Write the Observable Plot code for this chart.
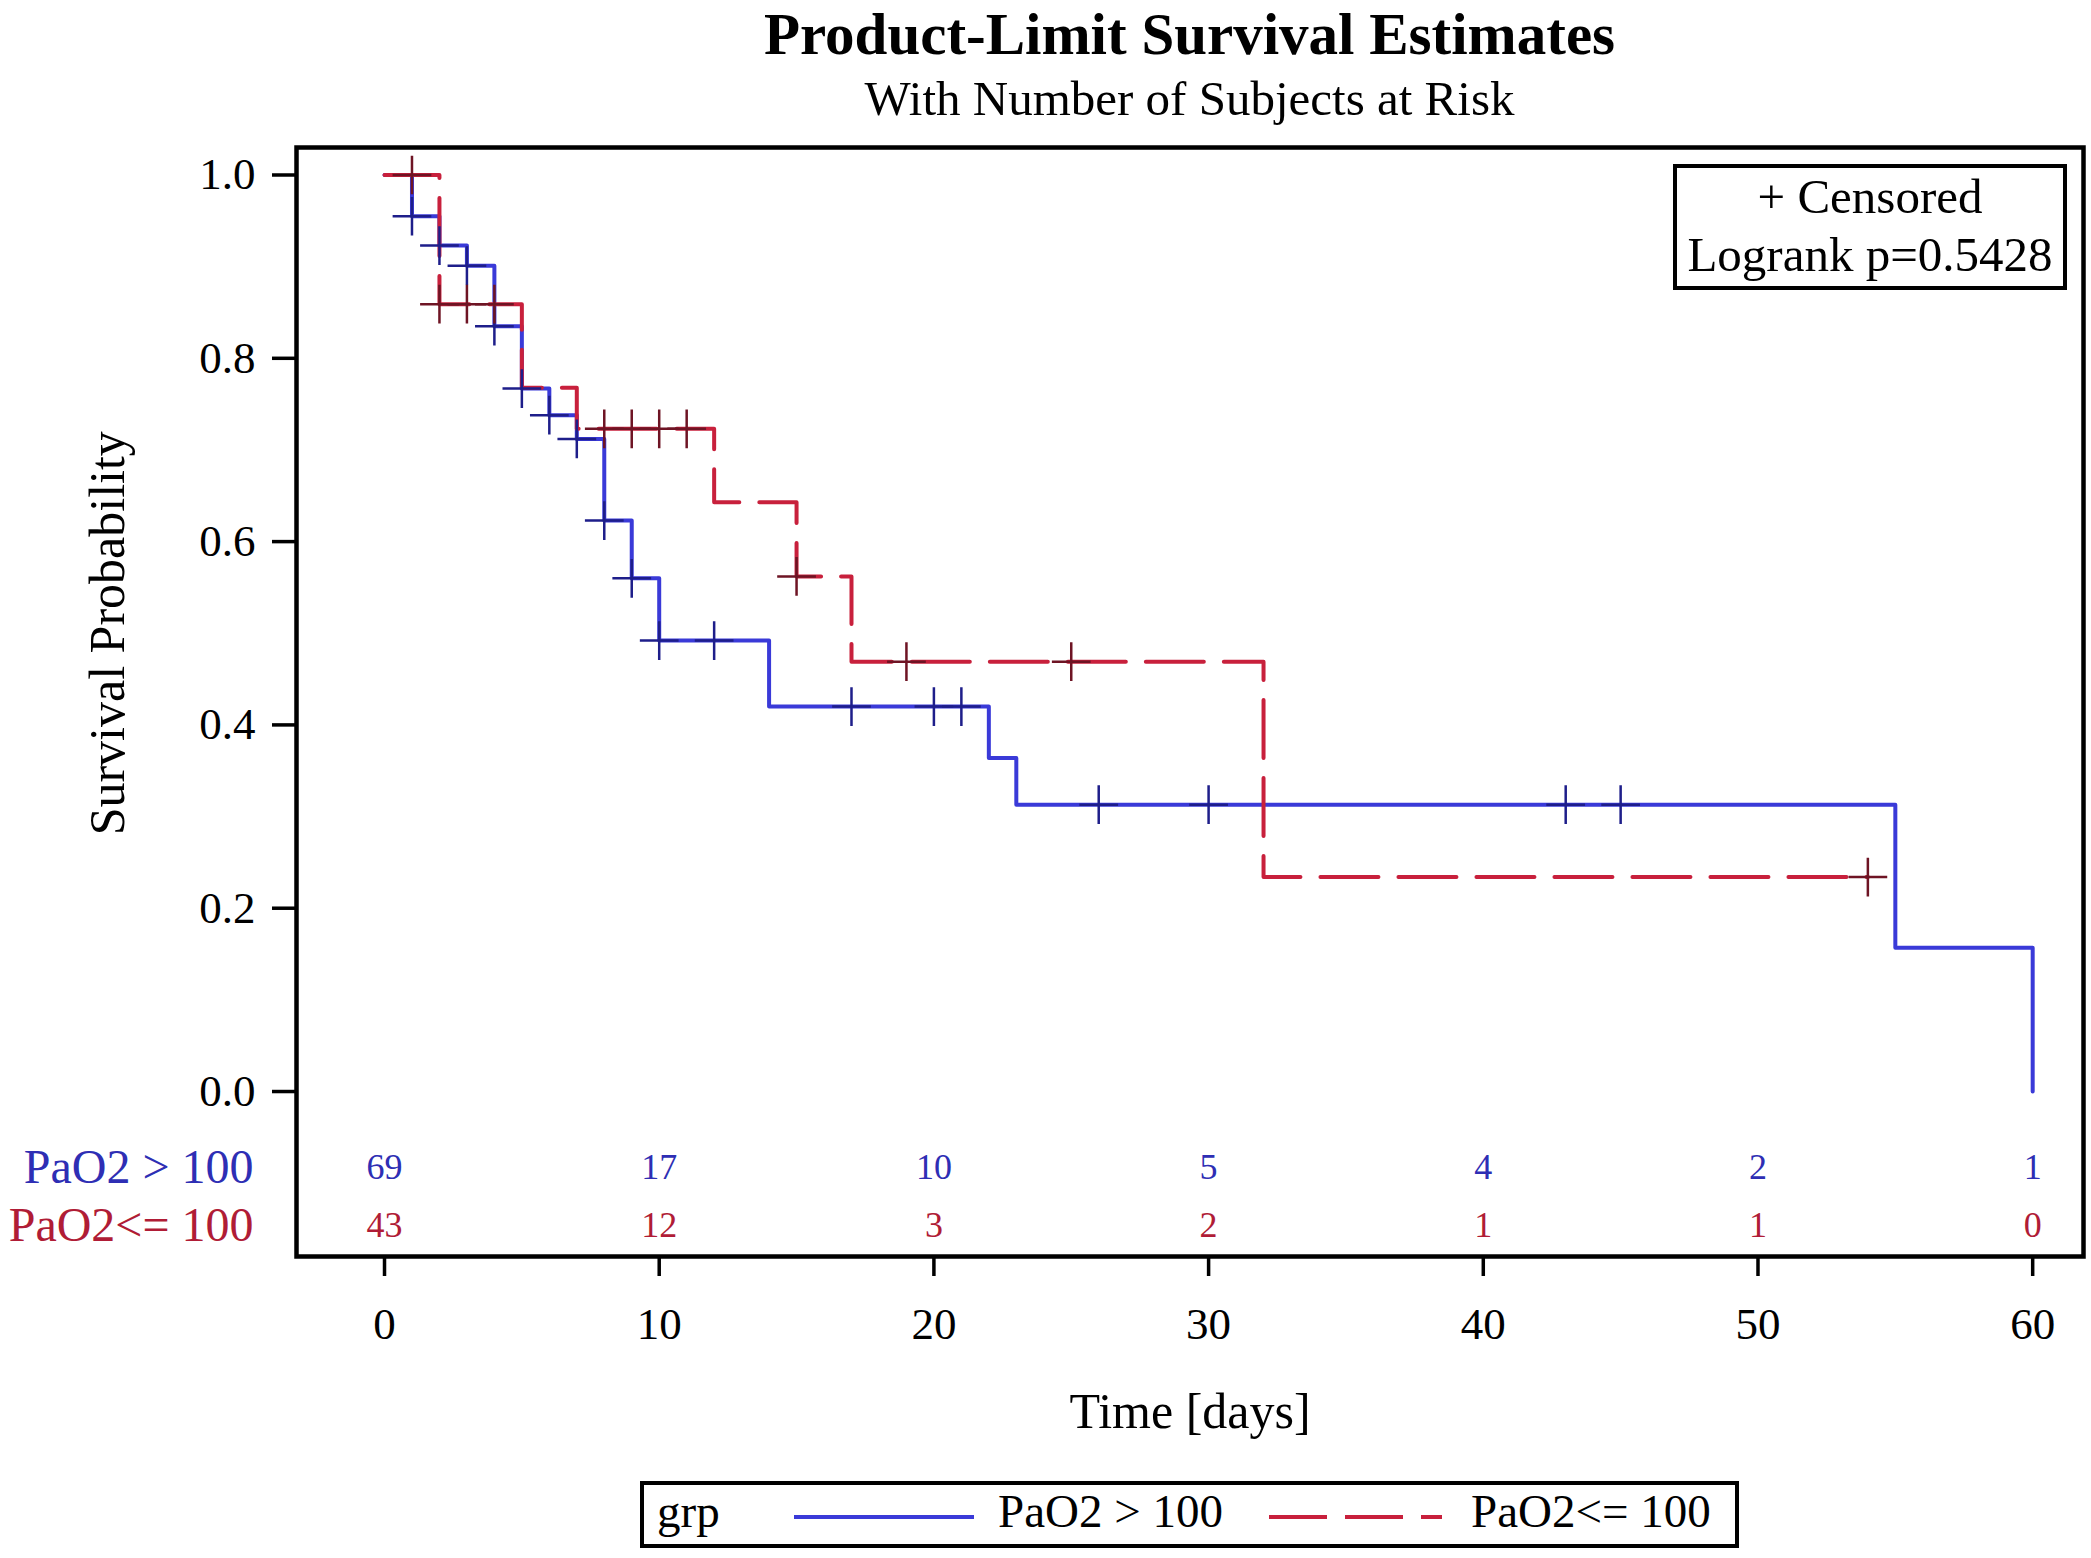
<!DOCTYPE html>
<html>
<head>
<meta charset="utf-8">
<script src="https://cdn.jsdelivr.net/npm/d3@7"></script>
<script src="https://cdn.jsdelivr.net/npm/@observablehq/plot@0.6"></script>
<style>
  body { margin: 0; background: #fff; font-family: "Liberation Serif", serif; color: #000; }
  #page { position: relative; width: 2091px; height: 1558px; overflow: hidden; }
  #title { position: absolute; left: 296px; width: 1787px; top: 0; text-align: center;
           font-weight: bold; font-size: 59px; line-height: 68px; }
  #subtitle { position: absolute; left: 296px; width: 1787px; top: 74px; text-align: center;
              font-size: 49px; line-height: 49px; }
  #chart { position: absolute; left: 0; top: 130px; }
  #inset { position: absolute; left: 1673px; top: 164px; width: 386px; height: 118px;
           border: 4px solid #000; background: #fff; text-align: center;
           font-size: 49px; line-height: 58px; }
  #legend { position: absolute; left: 640px; top: 1481px; }
</style>
</head>
<body>
<div id="page">
  <div id="title">Product-Limit Survival Estimates</div>
  <div id="subtitle">With Number of Subjects at Risk</div>
  <div id="chart"></div>
  <div id="inset">+ Censored<br>Logrank p=0.5428</div>
  <div id="legend"></div>
</div>
<script>
// groups
const groups = ["PaO2 > 100", "PaO2<= 100"];
const colors = ["#3a3ad8", "#c8203c"];
const censorColors = ["#1e1e8a", "#6e1424"];
const textColors = ["#2e2eb4", "#b01c36"];

// Kaplan-Meier steps, group PaO2 > 100
const highTime = [0, 1, 2, 3, 4, 5, 6, 7, 8, 9, 10, 14, 22, 23, 55, 60];
const highSurv = [1.0, 0.955, 0.923, 0.901, 0.835, 0.767, 0.738, 0.712, 0.623, 0.560, 0.492, 0.420, 0.364, 0.313, 0.157, 0.0];
const highCensored = [1, 2, 3, 4, 5, 6, 7, 8, 9, 10, 12, 17, 20, 21, 26, 30, 43, 45];

// Kaplan-Meier steps, group PaO2 <= 100
const lowTime = [0, 2, 5, 7, 12, 15, 17, 32, 54];
const lowSurv = [1.0, 0.859, 0.768, 0.723, 0.643, 0.562, 0.469, 0.234, 0.234];
const lowCensored = [1, 2, 3, 4, 8, 9, 10, 11, 15, 19, 25, 54];

// number at risk
const riskTimes = [0, 10, 20, 30, 40, 50, 60];
const riskHigh = [69, 17, 10, 5, 4, 2, 1];
const riskLow = [43, 12, 3, 2, 1, 1, 0];

const xTicks = [0, 10, 20, 30, 40, 50, 60];
const yTicks = [0, 0.2, 0.4, 0.6, 0.8, 1.0];

// layout
const rowY = [-0.0826, -0.146];

function steps(time, surv, g) {
  return time.map((t, i) => ({time: t, surv: surv[i], grp: groups[g]}));
}
function censor(time, surv, cens, g) {
  return cens.map(t => {
    const i = d3.bisectRight(time, t) - 1;
    return {time: t, surv: surv[i], grp: groups[g]};
  });
}
const lines = [steps(highTime, highSurv, 0), steps(lowTime, lowSurv, 1)];
const cens = [censor(highTime, highSurv, highCensored, 0), censor(lowTime, lowSurv, lowCensored, 1)];
const risk = [riskHigh, riskLow].flatMap((arr, g) =>
  arr.map((n, i) => ({time: riskTimes[i], n, row: rowY[g], g})));

const chart = Plot.plot({
  width: 2091,
  height: 1340,
  marginLeft: 296,
  marginRight: 8,
  marginTop: 17,
  marginBottom: 214,
  style: {fontFamily: "Liberation Serif", fontSize: "45px", background: "white", color: "black"},
  x: {domain: [-3.204, 61.85]},
  y: {domain: [-0.180, 1.030]},
  marks: [
    Plot.axisY({ticks: yTicks, tickFormat: d3.format(".1f"), tickSize: 24, tickPadding: 17,
                strokeWidth: 3.5, fontSize: 45, label: null}),
    Plot.axisX({ticks: xTicks, tickFormat: d3.format("d"), tickSize: 20, tickPadding: 31,
                strokeWidth: 3.5, fontSize: 45, label: null}),
    Plot.line(lines[0], {x: "time", y: "surv", curve: "step-after", stroke: colors[0], strokeWidth: 4}),
    Plot.line(lines[1], {x: "time", y: "surv", curve: "step-after", stroke: colors[1], strokeWidth: 4,
                         strokeDasharray: "58,20"}),
    Plot.dot(cens[0], {x: "time", y: "surv", symbol: "plus", r: 12.5, stroke: censorColors[0], strokeWidth: 2.5}),
    Plot.dot(cens[1], {x: "time", y: "surv", symbol: "plus", r: 12.5, stroke: censorColors[1], strokeWidth: 2.5}),
    Plot.text(risk, {x: "time", y: "row", text: "n", fontSize: 36,
                     fill: d => textColors[d.g]}),
    Plot.text(groups, {frameAnchor: "left", y: (d, i) => rowY[i], text: d => d, textAnchor: "end",
                       dx: -43, fontSize: 48, fill: (d, i) => textColors[i]}),
    Plot.text(["Survival Probability"], {frameAnchor: "left", y: d3.mean(yTicks), rotate: -90,
                                         textAnchor: "middle", dx: -189, fontSize: 50}),
    Plot.text(["Time [days]"], {frameAnchor: "bottom", dy: 171, fontSize: 50}),
    Plot.frame({stroke: "black", strokeWidth: 4.5})
  ]
});
document.getElementById("chart").appendChild(chart);

// legend below the chart
const leg = d3.select("#legend").append("svg")
  .attr("width", 1099).attr("height", 67)
  .style("font-family", "Liberation Serif").style("font-size", "47px");
leg.append("rect").attr("x", 2).attr("y", 2).attr("width", 1095).attr("height", 63)
  .attr("fill", "white").attr("stroke", "black").attr("stroke-width", 4);
leg.append("text").attr("x", 17).attr("y", 46).text("grp");
const legItems = [{x1: 154, x2: 334, tx: 358}, {x1: 629, x2: 802, tx: 831}];
groups.forEach((g, i) => {
  leg.append("line").attr("x1", legItems[i].x1).attr("x2", legItems[i].x2)
    .attr("y1", 36).attr("y2", 36)
    .attr("stroke", colors[i]).attr("stroke-width", 4)
    .attr("stroke-dasharray", i ? "58,18" : null);
  leg.append("text").attr("x", legItems[i].tx).attr("y", 46).text(g);
});
</script>
</body>
</html>
